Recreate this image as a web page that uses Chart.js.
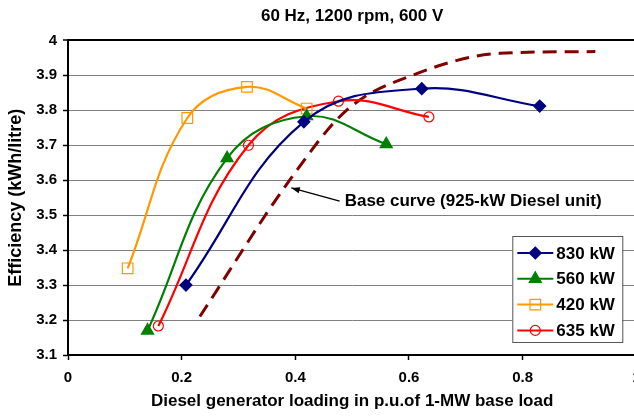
<!DOCTYPE html>
<html lang="en">
<head>
    <meta charset="UTF-8">
    <title>Diesel efficiency</title>
    <script src="https://cdn.jsdelivr.net/npm/chart.js@4.4.1/dist/chart.umd.min.js"></script>
    <style>
      html, body { margin: 0; padding: 0; background: #fff; overflow: hidden; }
      .container { width: 645px; height: 416px; }
    </style>
</head>
<body>
    <div class="container">
        <canvas id="myChart" width="645" height="416"></canvas>
    </div>

    <script>
        // values
        const seriesLabels = ['830 kW', '560 kW', '420 kW', '635 kW'];
        const x830 = [0.2075, 0.415, 0.6225, 0.83];
        const y830 = [3.300, 3.767, 3.862, 3.812];
        const x560 = [0.14, 0.28, 0.42, 0.56];
        const y560 = [3.170, 3.663, 3.783, 3.703];
        const x420 = [0.105, 0.21, 0.315, 0.42];
        const y420 = [3.348, 3.778, 3.867, 3.805];
        const x635 = [0.159, 0.3175, 0.476, 0.635];
        const y635 = [3.183, 3.700, 3.826, 3.781];
        const xBase = [0.232, 0.39, 0.49, 0.617, 0.76, 0.928];
        const yBase = [3.21, 3.60, 3.80, 3.907, 3.963, 3.968];
        const xTicks = [0, 0.2, 0.4, 0.6, 0.8, 1];
        const yTicks = [3.1, 3.2, 3.3, 3.4, 3.5, 3.6, 3.7, 3.8, 3.9, 4];
        const noteText = 'Base curve (925-kW Diesel unit)';

        const FONT = "'Liberation Sans', Arial, sans-serif";
        const pts = (xs, ys) => xs.map((x, i) => ({ x: x, y: ys[i] }));

        const colors = ['#000080', '#008000', '#FF9900', '#FF0000'];
        const shapes = ['rectRot', 'triangle', 'rect', 'circle'];
        const radii = [6, 7, 7.5, 5];
        const filled = [true, true, false, false];
        const seriesData = [pts(x830, y830), pts(x560, y560), pts(x420, y420), pts(x635, y635)];

        const datasets = seriesLabels.map((lab, i) => ({
          label: lab,
          data: seriesData[i],
          borderColor: colors[i],
          backgroundColor: filled[i] ? colors[i] : 'rgba(255,255,255,0)',
          borderWidth: 2.2,
          pointStyle: shapes[i],
          pointRadius: radii[i],
          pointBorderWidth: 1.2,
          pointBorderColor: colors[i],
          pointBackgroundColor: filled[i] ? colors[i] : 'rgba(255,255,255,0)',
          tension: 0.4,
          fill: false
        }));
        datasets.push({
          label: 'Base',
          data: pts(xBase, yBase),
          borderColor: '#800000',
          borderWidth: 3,
          borderDash: [14, 8],
          pointRadius: 0,
          cubicInterpolationMode: 'monotone',
          fill: false
        });

        // legend box + arrow note drawn on top
        const extras = {
          id: 'extras',
          afterDatasetsDraw(chart) {
            const c = chart.ctx;
            const xs = chart.scales.x, ys = chart.scales.y;
            const area = chart.chartArea;
            c.save();

            // arrow note
            const hx = xs.getPixelForValue(0.393), hy = ys.getPixelForValue(3.578);
            const tx = xs.getPixelForValue(0.478), ty = ys.getPixelForValue(3.54);
            c.strokeStyle = '#000';
            c.fillStyle = '#000';
            c.lineWidth = 1.3;
            c.beginPath();
            c.moveTo(tx, ty);
            c.lineTo(hx, hy);
            c.stroke();
            const ang = Math.atan2(hy - ty, hx - tx);
            c.beginPath();
            c.moveTo(hx, hy);
            c.lineTo(hx - 9 * Math.cos(ang - 0.35), hy - 9 * Math.sin(ang - 0.35));
            c.lineTo(hx - 9 * Math.cos(ang + 0.35), hy - 9 * Math.sin(ang + 0.35));
            c.closePath();
            c.fill();
            c.font = 'bold 17px ' + FONT;
            c.textBaseline = 'middle';
            c.textAlign = 'left';
            c.fillText(noteText, tx + 5, ty);

            // legend
            const bx = area.right - 124, by = area.bottom - 119, bw = 110, bh = 106;
            c.fillStyle = '#fff';
            c.fillRect(bx, by, bw, bh);
            c.strokeStyle = '#555';
            c.lineWidth = 1;
            c.strokeRect(bx + 0.5, by + 0.5, bw, bh);
            for (let i = 0; i < seriesLabels.length; i++) {
              const ly = by + 17 + i * 25.8;
              c.strokeStyle = colors[i];
              c.lineWidth = 2;
              c.beginPath();
              c.moveTo(bx + 5, ly);
              c.lineTo(bx + 41, ly);
              c.stroke();
              c.fillStyle = filled[i] ? colors[i] : 'rgba(255,255,255,0)';
              c.strokeStyle = colors[i];
              c.lineWidth = 1.2;
              Chart.helpers.drawPoint(c, { pointStyle: shapes[i], radius: radii[i], borderWidth: 1.2 }, bx + 23, ly);
              c.fillStyle = '#000';
              c.font = 'bold 17px ' + FONT;
              c.textBaseline = 'middle';
              c.fillText(seriesLabels[i], bx + 44, ly + 1);
            }
            c.restore();
          }
        };

        const ctx = document.getElementById('myChart').getContext('2d');
        const myChart = new Chart(ctx, {
          type: 'line',
          data: { datasets: datasets },
          options: {
            responsive: false,
            animation: false,
            layout: { padding: { left: 0, right: 0, top: 0, bottom: 0 } },
            plugins: {
              legend: { display: false },
              tooltip: { enabled: false },
              title: {
                display: true,
                fullSize: false,
                text: '60 Hz, 1200 rpm, 600 V',
                color: '#000',
                font: { family: FONT, size: 17, weight: 'bold' },
                padding: { top: 6, bottom: 14 }
              }
            },
            scales: {
              x: {
                type: 'linear',
                min: 0,
                max: 1,
                afterFit(scale) {
                  scale.height = 61;
                  scale.paddingLeft = 0;
                  scale.paddingRight = 4;
                },
                afterBuildTicks(scale) { scale.ticks = xTicks.map(v => ({ value: v })); },
                ticks: {
                  color: '#000',
                  padding: 9,
                  font: { family: FONT, size: 15, weight: 'bold' },
                  callback: v => String(+v.toFixed(1))
                },
                grid: { drawOnChartArea: false, drawTicks: true, tickLength: 5, tickColor: '#000', tickWidth: 1.5 },
                border: { color: '#000', width: 2 },
                title: {
                  display: true,
                  text: 'Diesel generator loading in p.u.of 1-MW base load',
                  color: '#000',
                  font: { family: FONT, size: 17, weight: 'bold' },
                  padding: { top: 0, bottom: 4 }
                }
              },
              y: {
                min: 3.1,
                max: 4,
                afterFit(scale) { scale.width = 68; },
                afterBuildTicks(scale) { scale.ticks = yTicks.map(v => ({ value: v })); },
                ticks: {
                  color: '#000',
                  padding: 6,
                  font: { family: FONT, size: 15, weight: 'bold' },
                  callback: v => String(+v.toFixed(1))
                },
                grid: {
                  color: c => (c.tick && c.tick.value === 4 ? '#000' : '#7f7f7f'),
                  lineWidth: c => (c.tick && c.tick.value === 4 ? 2 : 1),
                  tickLength: 5,
                  tickColor: '#000',
                  tickWidth: 1.5
                },
                border: { color: '#000', width: 2 },
                title: {
                  display: true,
                  text: 'Efficiency (kWh/litre)',
                  color: '#000',
                  font: { family: FONT, size: 18, weight: 'bold' },
                  padding: { top: 5, bottom: 0 }
                }
              }
            }
          },
          plugins: [extras]
        });
    </script>
</body>
</html>
